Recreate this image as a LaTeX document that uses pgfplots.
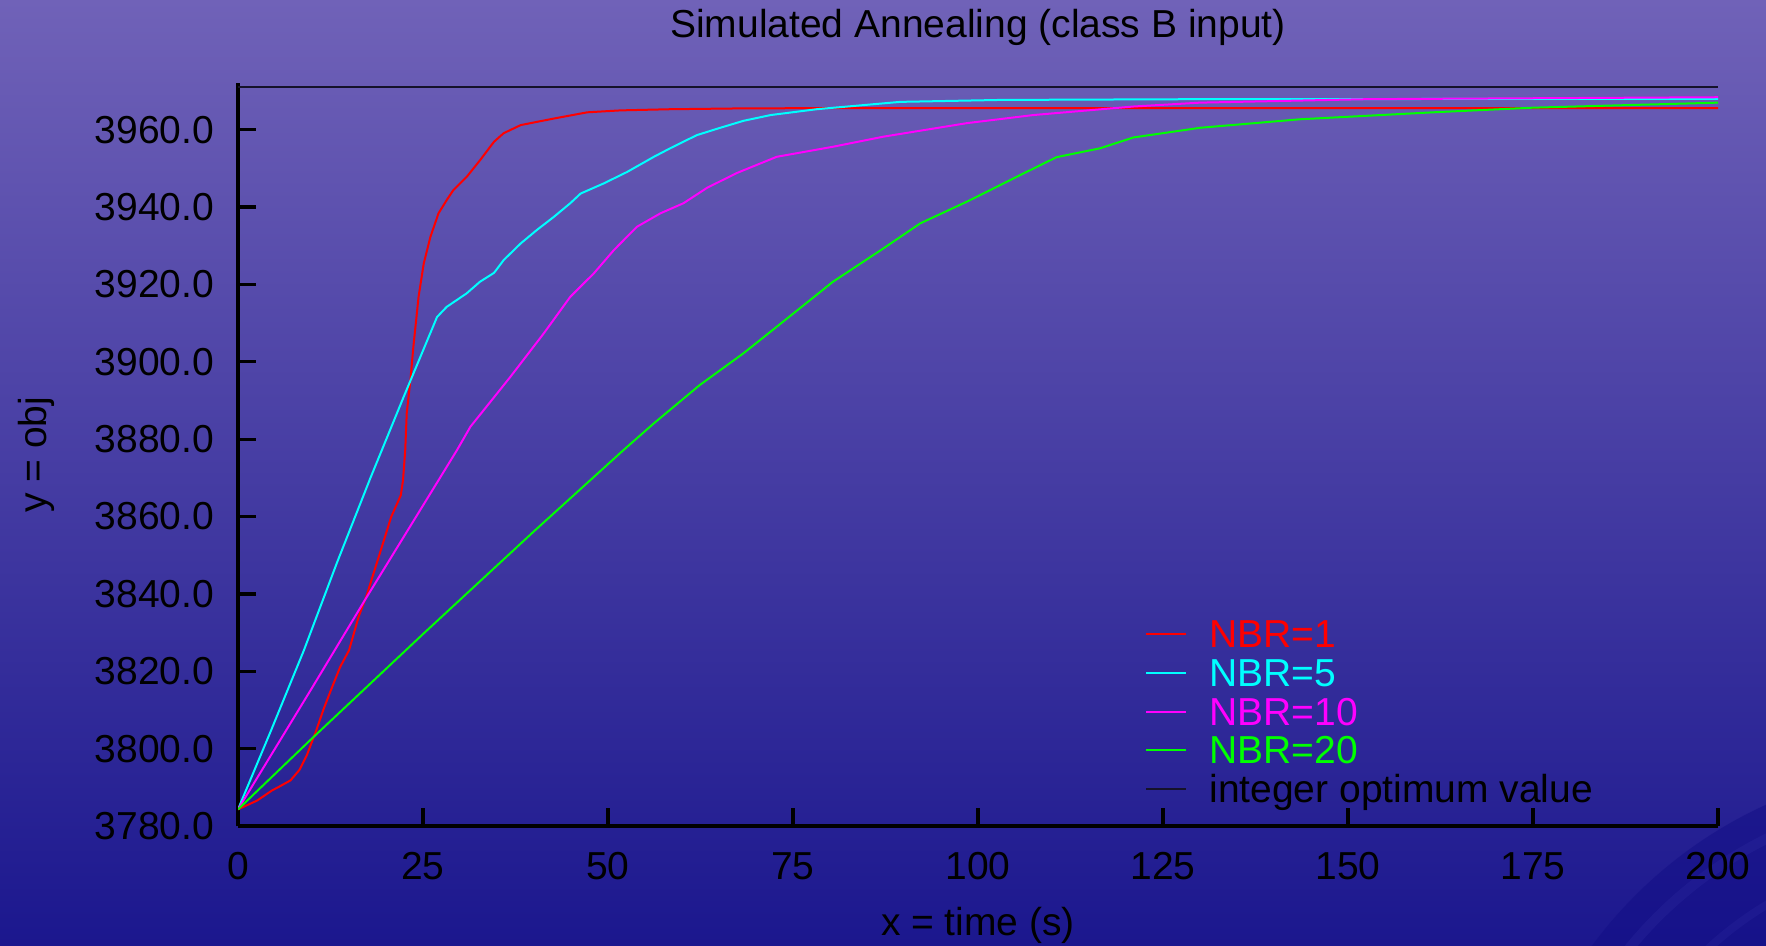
\documentclass[border=0pt]{standalone}
\usepackage{pgfplots}
\pgfplotsset{compat=1.18}
\usepackage{fontspec}
\setmainfont{Liberation Sans}

\definecolor{bgtop}{HTML}{7062B8}
\definecolor{bgbot}{HTML}{1B178E}
\definecolor{arcdark}{HTML}{120E86}
\definecolor{arclight}{HTML}{2C289E}
\definecolor{optline}{HTML}{15122A}
\definecolor{nbrred}{RGB}{255,0,0}
\definecolor{nbrcyan}{RGB}{0,255,255}
\definecolor{nbrmag}{RGB}{255,0,255}
\definecolor{nbrgreen}{RGB}{0,255,0}
\newcommand\chartfont{\fontsize{9.75}{11.7}\selectfont}

\begin{document}
\chartfont
\begin{tikzpicture}
% background: vertical gradient plus the faint arcs at bottom right
\shade[top color=bgtop, bottom color=bgbot] (0,0) rectangle (441.5pt,236.25pt);
\begin{scope}
  \clip (0,0) rectangle (441.5pt,236.25pt);
  \fill[arcdark, opacity=0.5] (487.5pt,-66.25pt) circle (111.25pt);
  \draw[arclight, line width=2.5pt, opacity=0.35] (487.5pt,-66.25pt) circle (103.5pt);
  \draw[arclight, line width=2pt, opacity=0.3] (487.5pt,-66.25pt) circle (89pt);
\end{scope}

\begin{axis}[
  at={(59.5pt,29.75pt)}, anchor=south west,
  scale only axis, width=370pt, height=185.675pt,
  xmin=0, xmax=200, ymin=3780, ymax=3972,
  axis lines=left, axis line style={-, line width=0.8pt, black},
  xtick={0,25,...,200}, ytick={3780,3800,...,3960},
  tick align=inside, major tick length=4.5pt,
  tick style={line width=0.8pt, black},
  /pgf/number format/assume math mode=true,
  scaled y ticks=false,
  x tick label style={font=\chartfont, anchor=north, inner sep=0pt, yshift=-6.4pt},
  y tick label style={font=\chartfont, anchor=east, inner sep=0pt, xshift=-5.8pt,
    /pgf/number format/.cd, fixed, fixed zerofill, precision=1, 1000 sep={}},
  title={Simulated Annealing (class B input)},
  title style={font=\chartfont, at={(0.5,1.0288)}, anchor=base, inner sep=0pt},
  xlabel={x = time (s)},
  xlabel style={font=\chartfont, at={(axis description cs:0.5,-0.14676)}, anchor=base, inner sep=0pt},
  ylabel={y = obj},
  ylabel style={font=\chartfont, at={(axis description cs:-0.12926,0.5)}, anchor=base, inner sep=0pt},
  legend style={font=\chartfont, at={(0.6131,0.2762)}, anchor=north west,
    draw=none, fill=none, inner sep=0pt, outer sep=0pt, row sep=2.97pt,
    cells={anchor=west}, nodes={inner sep=0pt, text height=6.7pt, text depth=0pt}},
  legend image code/.code={\draw[#1] (0pt,0pt) -- (10pt,0pt); \path (15.5pt,0pt);},
  every axis plot/.append style={line width=0.5pt},
]
% NBR=1
\addplot[nbrred] coordinates {
  (0,3784.3) (2.6,3786.6) (4.6,3789.2) (5.5,3790.1) (7.1,3791.8) (8.3,3794.5)
  (9.3,3798.3) (10.5,3804.3) (11.6,3810.4) (12.9,3816.8) (13.8,3821.1)
  (15.0,3825.4) (16.3,3834.1) (17.4,3839.7) (19.3,3851.3) (20.7,3859.9)
  (22.0,3865.5) (22.3,3869.4) (22.6,3877.2) (22.8,3886.7) (23.3,3895.3)
  (23.7,3903.9) (24.4,3916.8) (25.1,3925.4) (26.0,3932.3) (27.1,3938.4)
  (28.2,3941.8) (29.1,3944.4) (30.9,3947.8) (32.7,3952.1) (34.6,3956.9)
  (35.9,3959.1) (38.2,3961.2) (42.7,3962.9) (47.2,3964.5) (51.7,3965.0)
  (58.4,3965.3) (67.4,3965.5) (80,3965.6) (200,3965.6)};
\addlegendentry{\textcolor{nbrred}{NBR=1}}
% NBR=5
\addplot[nbrcyan] coordinates {
  (0,3784.3) (4.4,3804.4) (8.9,3825.4) (13.4,3848.2) (17.9,3870.0) (22.4,3891.0)
  (26.9,3911.6) (28.2,3914.2) (30.9,3917.7) (32.7,3920.7) (34.6,3923.0)
  (35.9,3926.3) (38.2,3930.6) (40.4,3934.1) (42.7,3937.5) (44.9,3941.0)
  (46.3,3943.5) (49.4,3946.1) (52.6,3949.1) (56.2,3953.0) (58.4,3955.2)
  (62.0,3958.6) (65.0,3960.4) (68.3,3962.3) (72.0,3963.8) (78.2,3965.3)
  (89.5,3967.2) (103,3967.7) (130,3967.9) (200,3968.0)};
\addlegendentry{\textcolor{nbrcyan}{NBR=5}}
% NBR=10
\addplot[nbrmag] coordinates {
  (0,3784.3) (10,3815.7) (17.4,3839.2) (27.1,3869.4) (29.6,3877.2) (31.4,3883.2)
  (36.8,3896.1) (41.3,3907.3) (44.9,3916.8) (48.1,3922.9) (50.8,3928.9)
  (53.9,3934.9) (57.1,3938.4) (60.2,3941.0) (63.4,3945.0) (67.4,3948.8)
  (72.8,3953.0) (80.4,3955.6) (87.2,3958.2) (98.5,3961.7) (107.5,3963.8)
  (121,3966.0) (130,3967.0) (152.6,3967.9) (200,3968.4)};
\addlegendentry{\textcolor{nbrmag}{NBR=10}}
% NBR=20
\addplot[nbrgreen] coordinates {
  (0,3784.3) (10.2,3803.0) (25.1,3829.8) (40,3856.2) (52.1,3877.2) (56.2,3884.1)
  (62.4,3894.0) (68.3,3902.2) (74.2,3911.2) (80.4,3920.7) (87.2,3929.3)
  (92.2,3935.8) (98.5,3941.4) (105.2,3947.8) (110.6,3952.9) (116.5,3955.2)
  (121,3958.0) (130,3960.5) (143.5,3962.7) (161.5,3964.5) (175,3965.7)
  (200,3967.0)};
\addlegendentry{\textcolor{nbrgreen}{NBR=20}}
% integer optimum
\addplot[optline, line width=0.45pt] coordinates {(0,3971) (200,3971)};
\addlegendentry{integer optimum value}
\end{axis}
\pgfresetboundingbox
\useasboundingbox (0,0) rectangle (441.5pt,236.25pt);
\end{tikzpicture}
\end{document}
